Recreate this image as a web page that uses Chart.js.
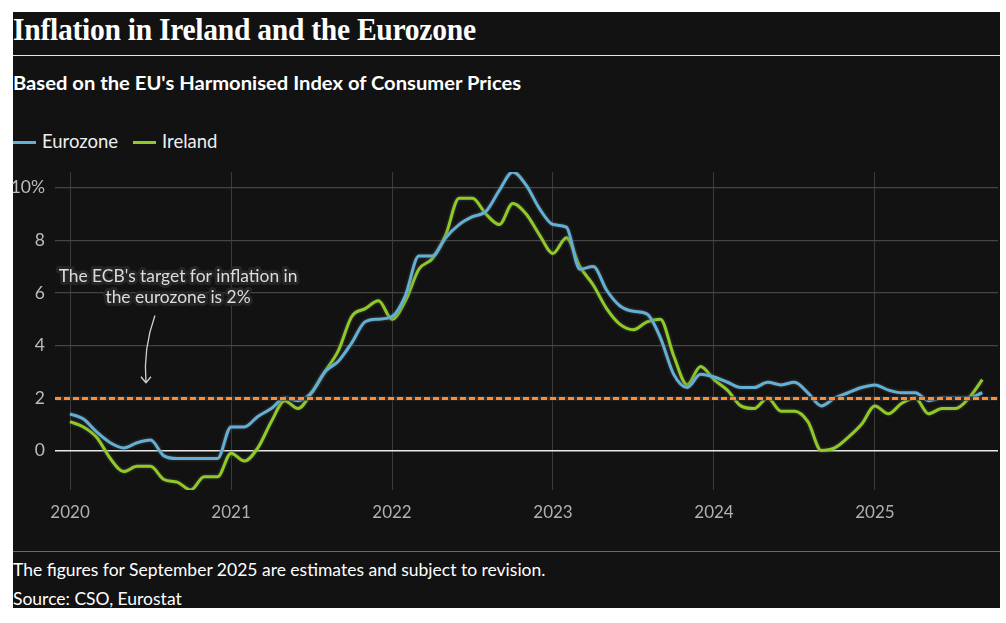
<!DOCTYPE html>
<html>
<head>
<meta charset="utf-8">
<script src="https://cdn.jsdelivr.net/npm/chart.js@4.4.1/dist/chart.umd.min.js"></script>
<style>
  html, body { margin: 0; padding: 0; background: #fff; }
  body { width: 1006px; height: 623px; position: relative; overflow: hidden; font-family: Lato, "Open Sans", sans-serif; }
  #panel { position: absolute; left: 13px; top: 12px; width: 987px; height: 596px; background: #121212; }
  .txt { position: absolute; white-space: nowrap; color: #fff; transform-origin: left top; }
  #title { left: 13px; top: 14px; font: bold 31px/31px "Liberation Serif", serif; letter-spacing: -0.3px; }
  #rule1 { position: absolute; left: 13px; top: 55px; width: 987px; height: 1px; background: #e6e6e6; }
  #subtitle { left: 13px; top: 72px; font: bold 19.5px/22px Lato, sans-serif; }
  #legend { left: 13px; top: 130px; font: 18.5px/22px Lato, sans-serif; color: #eee; }
  .sw { display: inline-block; width: 23px; height: 3px; vertical-align: middle; margin-right: 6px; position: relative; top: -1px; }
  #rule2 { position: absolute; left: 13px; top: 551px; width: 987px; height: 1px; background: #6a6a6a; }
  #note { left: 13px; top: 559px; font: 17.5px/22px Lato, sans-serif; }
  #source { left: 13px; top: 588px; font: 17.5px/22px Lato, sans-serif; }
  canvas { position: absolute; left: 0; top: 0; }
</style>
</head>
<body>
<div id="panel"></div>
<div class="txt" id="title">Inflation in Ireland and the Eurozone</div>
<div id="rule1"></div>
<div class="txt" id="subtitle">Based on the EU's Harmonised Index of Consumer Prices</div>
<div class="txt" id="legend"><span class="sw" style="background:#62b0d6"></span>Eurozone<span style="display:inline-block;width:15px"></span><span class="sw" style="background:#8fcb24"></span>Ireland</div>
<div id="rule2"></div>
<div class="txt" id="note">The figures for September 2025 are estimates and subject to revision.</div>
<div class="txt" id="source">Source: CSO, Eurostat</div>
<canvas id="chart" width="1006" height="623"></canvas>
<script>
// monthly HICP annual rate, Jan 2020 .. Sep 2025
const eurozone = [
  1.4, 1.2, 0.7, 0.3, 0.1, 0.3, 0.4, -0.2, -0.3, -0.3, -0.3, -0.3,
  0.9, 0.9, 1.3, 1.6, 2.0, 1.9, 2.2, 3.0, 3.4, 4.1, 4.9, 5.0,
  5.1, 5.9, 7.4, 7.4, 8.1, 8.6, 8.9, 9.1, 9.9, 10.6, 10.1, 9.2,
  8.6, 8.5, 6.9, 7.0, 6.1, 5.5, 5.3, 5.2, 4.3, 2.9, 2.4, 2.9,
  2.8, 2.6, 2.4, 2.4, 2.6, 2.5, 2.6, 2.2, 1.7, 2.0, 2.2, 2.4,
  2.5, 2.3, 2.2, 2.2, 1.9, 2.0, 2.0, 2.0, 2.2
];
const ireland = [
  1.1, 0.9, 0.5, -0.3, -0.8, -0.6, -0.6, -1.1, -1.2, -1.5, -1.0, -1.0,
  -0.1, -0.4, 0.1, 1.1, 1.9, 1.6, 2.2, 3.0, 3.8, 5.1, 5.4, 5.7,
  5.0, 5.7, 6.9, 7.3, 8.2, 9.6, 9.6, 9.0, 8.6, 9.4, 9.0, 8.2,
  7.5, 8.1, 7.0, 6.3, 5.4, 4.8, 4.6, 4.9, 5.0, 3.6, 2.5, 3.2,
  2.7, 2.3, 1.7, 1.6, 2.0, 1.5, 1.5, 1.1, 0.0, 0.1, 0.5, 1.0,
  1.7, 1.4, 1.8, 2.0, 1.4, 1.6, 1.6, 2.0, 2.7
];
const yearLabels = ['2020', '2021', '2022', '2023', '2024', '2025'];
const yTicks = [0, 2, 4, 6, 8, 10];
const ecbTarget = 2;
const noteLines = ["The ECB's target for inflation in", "the eurozone is 2%"];

const blue = '#62b0d6', green = '#8fcb24', orange = '#ff8c33';

// squeeze text blocks to the widths they have in the original
const fit = (id, w) => {
  const el = document.getElementById(id);
  el.style.transform = 'scaleX(' + (w / el.offsetWidth) + ')';
};
fit('title', 463);
fit('subtitle', 508);
fit('note', 532);

const toPoints = arr => arr.map((v, i) => ({ x: i, y: v }));

const glow = {
  id: 'glow',
  beforeDatasetDraw(chart) {
    const c = chart.ctx;
    c.save();
    c.shadowColor = 'rgba(90,90,90,0.8)';
    c.shadowBlur = 3;
  },
  afterDatasetDraw(chart) {
    chart.ctx.restore();
  }
};

const target = {
  id: 'target',
  afterDatasetsDraw(chart) {
    const c = chart.ctx, a = chart.chartArea, sx = chart.scales.x, sy = chart.scales.y;
    const y = Math.round(sy.getPixelForValue(ecbTarget)) + 0.5;
    c.save();
    c.lineWidth = 4;
    c.strokeStyle = '#2e2e2e';
    c.beginPath(); c.moveTo(a.left, y); c.lineTo(a.right, y); c.stroke();
    c.lineWidth = 3;
    c.strokeStyle = orange;
    c.setLineDash([6, 3]);
    c.beginPath(); c.moveTo(a.left, y); c.lineTo(a.right, y); c.stroke();
    c.setLineDash([]);

    // annotation
    c.font = '17.4px Lato, sans-serif';
    c.textAlign = 'center';
    c.textBaseline = 'middle';
    const tx = sx.getPixelForValue(8.05), ty = sy.getPixelForValue(6.63);
    noteLines.forEach((t, i) => {
      c.lineWidth = 6;
      c.lineJoin = 'round';
      c.strokeStyle = '#252525';
      c.strokeText(t, tx, ty + i * 21);
      c.fillStyle = '#dcdcdc';
      c.fillText(t, tx, ty + i * 21);
    });

    // arrow
    const p0 = [sx.getPixelForValue(6.33), sy.getPixelForValue(5.14)];
    const p1 = [sx.getPixelForValue(5.45), sy.getPixelForValue(3.9)];
    const p2 = [sx.getPixelForValue(5.66), sy.getPixelForValue(2.58)];
    c.strokeStyle = '#cfcfcf';
    c.lineWidth = 1.3;
    c.beginPath(); c.moveTo(p0[0], p0[1]); c.quadraticCurveTo(p1[0], p1[1], p2[0], p2[1]); c.stroke();
    c.beginPath();
    c.moveTo(p2[0] - 5, p2[1] - 6); c.lineTo(p2[0], p2[1]); c.lineTo(p2[0] + 5, p2[1] - 6);
    c.stroke();
    c.restore();
  }
};

new Chart(document.getElementById('chart'), {
  type: 'line',
  data: {
    datasets: [
      { label: 'Eurozone', data: toPoints(eurozone), borderColor: blue, borderWidth: 3, pointRadius: 0, cubicInterpolationMode: 'monotone' },
      { label: 'Ireland', data: toPoints(ireland), borderColor: green, borderWidth: 3, pointRadius: 0, cubicInterpolationMode: 'monotone' }
    ]
  },
  options: {
    responsive: false,
    animation: false,
    layout: { padding: { top: 172, right: 8, left: 0, bottom: 0 } },
    plugins: { legend: { display: false }, tooltip: { enabled: false } },
    scales: {
      x: {
        type: 'linear',
        min: -1.12,
        max: 69.17,
        afterBuildTicks: s => { s.ticks = yearLabels.map((l, i) => ({ value: i * 12 })); },
        afterFit: s => { s.height = 133; },
        ticks: { callback: v => yearLabels[v / 12], color: '#b0b0b0', font: { family: 'Lato', size: 17 }, padding: 12, maxRotation: 0, autoSkip: false },
        grid: { color: '#3a3a3a', drawTicks: false },
        border: { display: false }
      },
      y: {
        min: -1.5,
        max: 10.6,
        afterBuildTicks: s => { s.ticks = yTicks.map(v => ({ value: v })); },
        afterFit: s => { s.width = 55; },
        ticks: { callback: v => v === 10 ? '10%' : String(v), color: '#bcbcbc', font: { family: 'Lato', size: 17.5 }, padding: 10 },
        grid: { color: c => c.tick && c.tick.value === 0 ? '#e8e8e8' : '#454545', lineWidth: c => c.tick && c.tick.value === 0 ? 1.5 : 1.2, drawTicks: false },
        border: { display: false }
      }
    }
  },
  plugins: [glow, target]
});
</script>
</body>
</html>
